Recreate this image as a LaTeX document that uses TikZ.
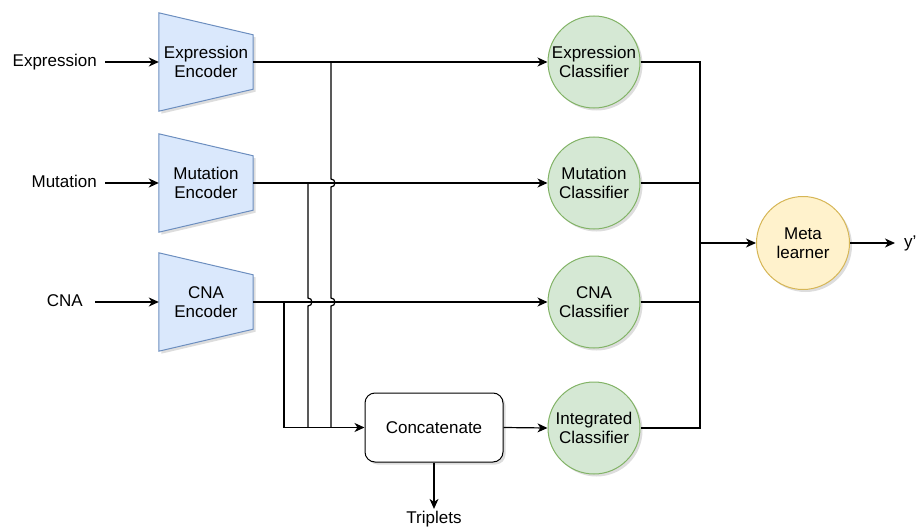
\documentclass[tikz,border=0pt]{standalone}
\usepackage{fontspec}
\setmainfont{Liberation Sans}
\usetikzlibrary{arrows.meta,calc,shadows}

\definecolor{encfill}{HTML}{DAE8FC}
\definecolor{encline}{HTML}{6C8EBF}
\definecolor{clsfill}{HTML}{D5E8D4}
\definecolor{clsline}{HTML}{82B366}
\definecolor{metafill}{HTML}{FFF2CC}
\definecolor{metaline}{HTML}{D6B656}

\tikzset{
  every node/.style={font=\fontsize{17}{19.5}\selectfont, align=center},
  soft shadow/.style={drop shadow={shadow xshift=2.5pt, shadow yshift=-2.5pt, opacity=0.22, fill=black!60}},
  encbox/.style={minimum width=94pt, minimum height=98pt, inner sep=0pt},
  enctrap/.style={fill=encfill, draw=encline, line width=1pt, soft shadow},
  classnode/.style={circle, minimum size=92pt, inner sep=0pt, fill=clsfill, draw=clsline, line width=1pt, soft shadow},
  metanode/.style={circle, minimum size=93pt, inner sep=0pt, fill=metafill, draw=metaline, line width=1pt, soft shadow},
  concatnode/.style={rectangle, rounded corners=10pt, minimum width=138pt, minimum height=69pt, fill=white, draw=black, line width=1pt, soft shadow},
  wire/.style={line width=1.2pt, draw=black},
  flow/.style={wire, -{Stealth[length=10pt, width=9pt, inset=3pt]}},
  label/.style={inner sep=0pt},
}

\newcommand{\encshape}[1]{%
  \draw[enctrap] (#1.north west) -- ([yshift=-22pt]#1.north east)
    -- ([yshift=22pt]#1.south east) -- (#1.south west) -- cycle;}

\begin{document}
\begin{tikzpicture}[x=1pt, y=-1pt]
  \useasboundingbox (0,0) rectangle (919,527);

  % encoders
  \node[encbox] (encE) at (206,62) {};
  \node[encbox] (encM) at (206,183) {};
  \node[encbox] (encC) at (206,302) {};
  \encshape{encE}
  \encshape{encM}
  \encshape{encC}
  \node at (206,62) {Expression\\Encoder};
  \node at (206,183) {Mutation\\Encoder};
  \node at (206,302) {CNA\\Encoder};

  % inputs
  \node[label, anchor=east] (inE) at (97,62) {\vphantom{Ep}Expression};
  \node[label, anchor=east] (inM) at (97,183) {\vphantom{Ep}Mutation};
  \node[label, anchor=east] (inC) at (83,302) {\vphantom{Ep}CNA};
  \draw[flow] ([xshift=8pt]inE.east) -- (encE.west);
  \draw[flow, line width=1.8pt] ([xshift=8pt]inM.east) -- (encM.west);
  \draw[flow] ([xshift=12pt]inC.east) -- (encC.west);

  % classifiers
  \node[classnode] (clE) at (594,62) {Expression\\Classifier};
  \node[classnode] (clM) at (594,183) {Mutation\\Classifier};
  \node[classnode] (clC) at (594,302) {CNA\\Classifier};
  \node[classnode] (clI) at (594,428) {Integrated\\Classifier};

  % concatenation
  \node[concatnode] (cat) at (434,427.5) {Concatenate};
  \node[label] (trip) at (434,519) {Triplets};

  % meta learner
  \node[metanode] (meta) at (803,243) {Meta\\learner};
  \node[label, anchor=west] (yout) at (904,243) {\vphantom{Ep}y'};

  % encoder to classifier paths
  \draw[flow] (encE.east) -- (clE.west);
  \draw[flow] (encM.east) -- (clM.west);
  \draw[flow] (encC.east) -- (clC.west);

  % taps down to the concatenation, hopping over crossing lines
  \coordinate (tapE) at (331,62);
  \coordinate (tapM) at (308,183);
  \coordinate (tapC) at (284,302);
  \coordinate (joinC) at (284,427.5);
  \draw[wire] (tapE) -- (331,179) arc[start angle=90, end angle=-90, radius=4pt]
    -- (331,298) arc[start angle=90, end angle=-90, radius=4pt]
    -- (331,427.5);
  \draw[wire] (tapM) -- (308,298) arc[start angle=90, end angle=-90, radius=4pt]
    -- (308,427.5);
  \draw[wire] (tapC) -- (joinC);
  \draw[flow] (joinC) -- (cat.west);

  \draw[flow] (cat.east) -- (clI.west);
  \draw[flow] (cat.south) -- ([yshift=2pt]trip.north);

  % classifier outputs merged into the meta learner
  \coordinate (busT) at (700,62);
  \coordinate (busB) at (700,428);
  \coordinate (busM) at (700,243);
  \draw[wire] (clE.east) -- (busT) -- (busB) -- (clI.east);
  \draw[wire] (clM.east) -- (700,183);
  \draw[wire] (clC.east) -- (700,302);
  \draw[flow] (busM) -- (meta.west);
  \draw[flow] (meta.east) -- ([xshift=-9pt]yout.west);
\end{tikzpicture}
\end{document}
